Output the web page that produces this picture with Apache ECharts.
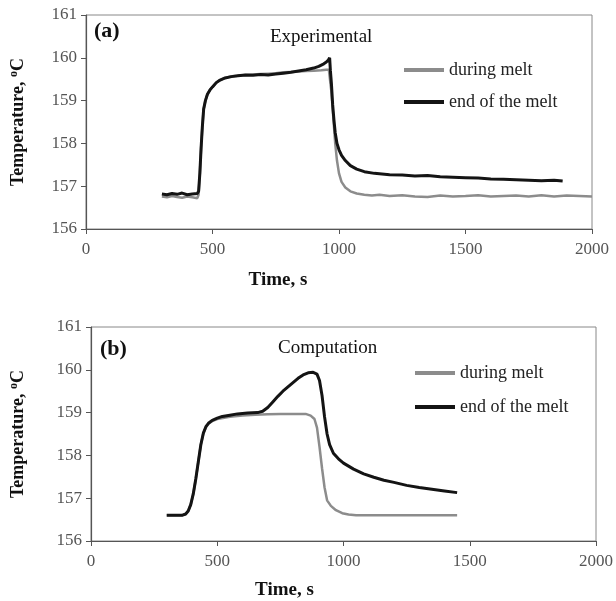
<!DOCTYPE html>
<html>
<head>
<meta charset="utf-8">
<script src="https://cdn.jsdelivr.net/npm/echarts@6/dist/echarts.min.js"></script>
<style>
html,body{margin:0;padding:0;background:#fff;}
#chart{width:616px;height:601px;}
</style>
</head>
<body>
<div id="chart"></div>
<script>
// ---------- Data ----------
var seriesNames = ['during melt', 'end of the melt'];
var xTicks = [0, 500, 1000, 1500, 2000];
var yTicks = [156, 157, 158, 159, 160, 161];

// (a) Experimental - during melt
var timeA_during = [300,320,340,360,380,400,420,440,445,450,455,460,465,472,480,490,500,515,530,550,575,600,630,660,690,720,750,780,810,840,870,900,930,950,960,965,970,975,980,985,992,1000,1010,1025,1045,1070,1100,1130,1160,1200,1250,1300,1350,1400,1450,1500,1550,1600,1650,1700,1750,1800,1850,1900,1950,2000];
var tempA_during = [156.76,156.74,156.77,156.75,156.73,156.76,156.74,156.72,156.8,157.3,157.9,158.4,158.8,159.0,159.15,159.25,159.32,159.42,159.48,159.53,159.57,159.58,159.6,159.61,159.62,159.63,159.64,159.66,159.67,159.68,159.69,159.7,159.71,159.72,159.72,159.7,159.2,158.8,158.4,158.0,157.6,157.3,157.1,156.97,156.88,156.83,156.8,156.78,156.8,156.77,156.79,156.76,156.75,156.78,156.76,156.77,156.79,156.76,156.77,156.78,156.76,156.79,156.76,156.78,156.77,156.76];

// (a) Experimental - end of the melt
var timeA_end = [300,320,340,360,380,400,420,440,445,450,455,460,465,472,480,490,500,515,530,550,575,600,630,660,690,720,750,780,810,840,870,900,920,940,950,958,963,966,970,975,980,985,992,1000,1010,1025,1045,1070,1100,1140,1200,1250,1300,1350,1400,1450,1500,1550,1600,1650,1700,1750,1800,1850,1884];
var tempA_end = [156.82,156.8,156.83,156.81,156.84,156.8,156.82,156.83,156.88,157.3,157.9,158.4,158.8,159.0,159.15,159.25,159.32,159.42,159.48,159.53,159.56,159.58,159.6,159.59,159.61,159.6,159.62,159.64,159.66,159.69,159.72,159.76,159.8,159.86,159.9,159.95,160.0,159.7,159.4,158.9,158.55,158.25,158.0,157.85,157.72,157.6,157.48,157.4,157.34,157.3,157.27,157.26,157.24,157.25,157.22,157.21,157.2,157.19,157.17,157.16,157.15,157.14,157.13,157.14,157.12];

// (b) Computation - during melt
var timeB_during = [300,330,360,375,385,395,405,415,425,435,445,455,465,480,500,550,600,650,700,750,800,850,870,885,895,905,915,925,935,950,970,995,1020,1050,1100,1200,1300,1400,1450];
var tempB_during = [156.6,156.6,156.6,156.63,156.7,156.85,157.1,157.45,157.85,158.25,158.52,158.66,158.74,158.8,158.85,158.9,158.93,158.95,158.96,158.97,158.97,158.97,158.93,158.85,158.65,158.2,157.7,157.25,156.95,156.82,156.72,156.65,156.62,156.6,156.6,156.6,156.6,156.6,156.6];

// (b) Computation - end of the melt
var timeB_end = [300,330,360,375,385,395,405,415,425,435,445,455,465,480,500,520,550,580,620,660,680,700,720,740,760,780,800,820,840,860,880,895,905,915,925,935,945,960,980,1000,1040,1080,1120,1160,1200,1250,1300,1350,1400,1450];
var tempB_end = [156.6,156.6,156.6,156.63,156.7,156.85,157.1,157.45,157.85,158.25,158.52,158.67,158.75,158.82,158.87,158.91,158.94,158.97,158.99,159.0,159.03,159.12,159.25,159.38,159.5,159.6,159.7,159.8,159.88,159.93,159.94,159.9,159.75,159.4,158.9,158.5,158.25,158.05,157.92,157.82,157.68,157.57,157.49,157.42,157.37,157.3,157.25,157.21,157.17,157.13];

// ---------- Build ----------
function pairs(xs, ys){ return xs.map(function(x,i){ return [x, ys[i]]; }); }
var FONT = '"Liberation Serif", "Times New Roman", serif';
var GRAY = '#8c8c8c', BLACK = '#141414';

function xAxis(gridIndex, shift, gap){
  return {
    type:'value', gridIndex:gridIndex, min:xTicks[0], max:xTicks[xTicks.length-1], interval:xTicks[1]-xTicks[0],
    name:'Time, s', nameLocation:'middle', nameGap:gap,
    nameTextStyle:{fontFamily:FONT, fontWeight:'bold', fontSize:19, color:'#111', padding:[0,shift,0,0]},
    axisLine:{show:true, lineStyle:{color:'#555', width:1.2}},
    axisTick:{show:true, inside:false, length:5, lineStyle:{color:'#555'}},
    axisLabel:{fontFamily:FONT, fontSize:17, color:'#555', margin:12, formatter:function(v){ return String(v); }},
    splitLine:{show:false}
  };
}
function yAxis(gridIndex, gap){
  return {
    type:'value', gridIndex:gridIndex, min:yTicks[0], max:yTicks[yTicks.length-1], interval:1,
    name:'Temperature, {s|o}C', nameLocation:'middle', nameGap:gap, nameRotate:90,
    nameTextStyle:{fontFamily:FONT, fontWeight:'bold', fontSize:18, color:'#111',
      rich:{s:{fontFamily:FONT, fontWeight:'bold', fontSize:12, color:'#111', padding:[0,0,8,0]}}},
    axisLine:{show:true, lineStyle:{color:'#555', width:1.2}},
    axisTick:{show:true, inside:false, length:5, lineStyle:{color:'#555'}},
    axisLabel:{fontFamily:FONT, fontSize:17, color:'#555', margin:9, formatter:function(v){ return String(v); }},
    splitLine:{show:false}
  };
}
function line(name, data, xi, color, width){
  return {
    name:name, type:'line', xAxisIndex:xi, yAxisIndex:xi, data:data,
    showSymbol:false, symbol:'none', smooth:false, animation:false,
    lineStyle:{color:color, width:width}, itemStyle:{color:color}, color:color
  };
}
function legend(left, top, gap){
  return {
    data:seriesNames, orient:'vertical', left:left, top:top, itemGap:gap,
    icon:'rect', itemWidth:40, itemHeight:4, padding:0,
    textStyle:{fontFamily:FONT, fontSize:18, color:'#222', lineHeight:18}
  };
}

var chart = echarts.init(document.getElementById('chart'), null, {renderer:'canvas'});
chart.setOption({
  backgroundColor:'#fff',
  animation:false,
  title:[
    {text:'(a)', left:94, top:20, padding:0, textStyle:{fontFamily:FONT, fontWeight:'bold', fontSize:22, color:'#111'}},
    {text:'Experimental', left:270, top:28, padding:0, textStyle:{fontFamily:FONT, fontWeight:'normal', fontSize:19, color:'#111'}},
    {text:'(b)', left:100, top:338, padding:0, textStyle:{fontFamily:FONT, fontWeight:'bold', fontSize:22, color:'#111'}},
    {text:'Computation', left:278, top:339, padding:0, textStyle:{fontFamily:FONT, fontWeight:'normal', fontSize:19, color:'#111'}}
  ],
  legend:[ legend(404, 61, 14), legend(415, 364, 16) ],
  grid:[
    {left:86, top:15, width:506, height:214, show:true, borderColor:'#888', borderWidth:1, backgroundColor:'transparent'},
    {left:91, top:327, width:508, height:214, show:true, borderColor:'#888', borderWidth:1, backgroundColor:'transparent'}
  ],
  xAxis:[ xAxis(0, 122, 42), xAxis(1, 118, 40) ],
  yAxis:[ yAxis(0, 58), yAxis(1, 63) ],
  series:[
    line(seriesNames[0], pairs(timeA_during, tempA_during), 0, GRAY, 2.5),
    line(seriesNames[1], pairs(timeA_end, tempA_end), 0, BLACK, 3),
    line(seriesNames[0], pairs(timeB_during, tempB_during), 1, GRAY, 2.5),
    line(seriesNames[1], pairs(timeB_end, tempB_end), 1, BLACK, 3)
  ]
});
</script>
</body>
</html>
